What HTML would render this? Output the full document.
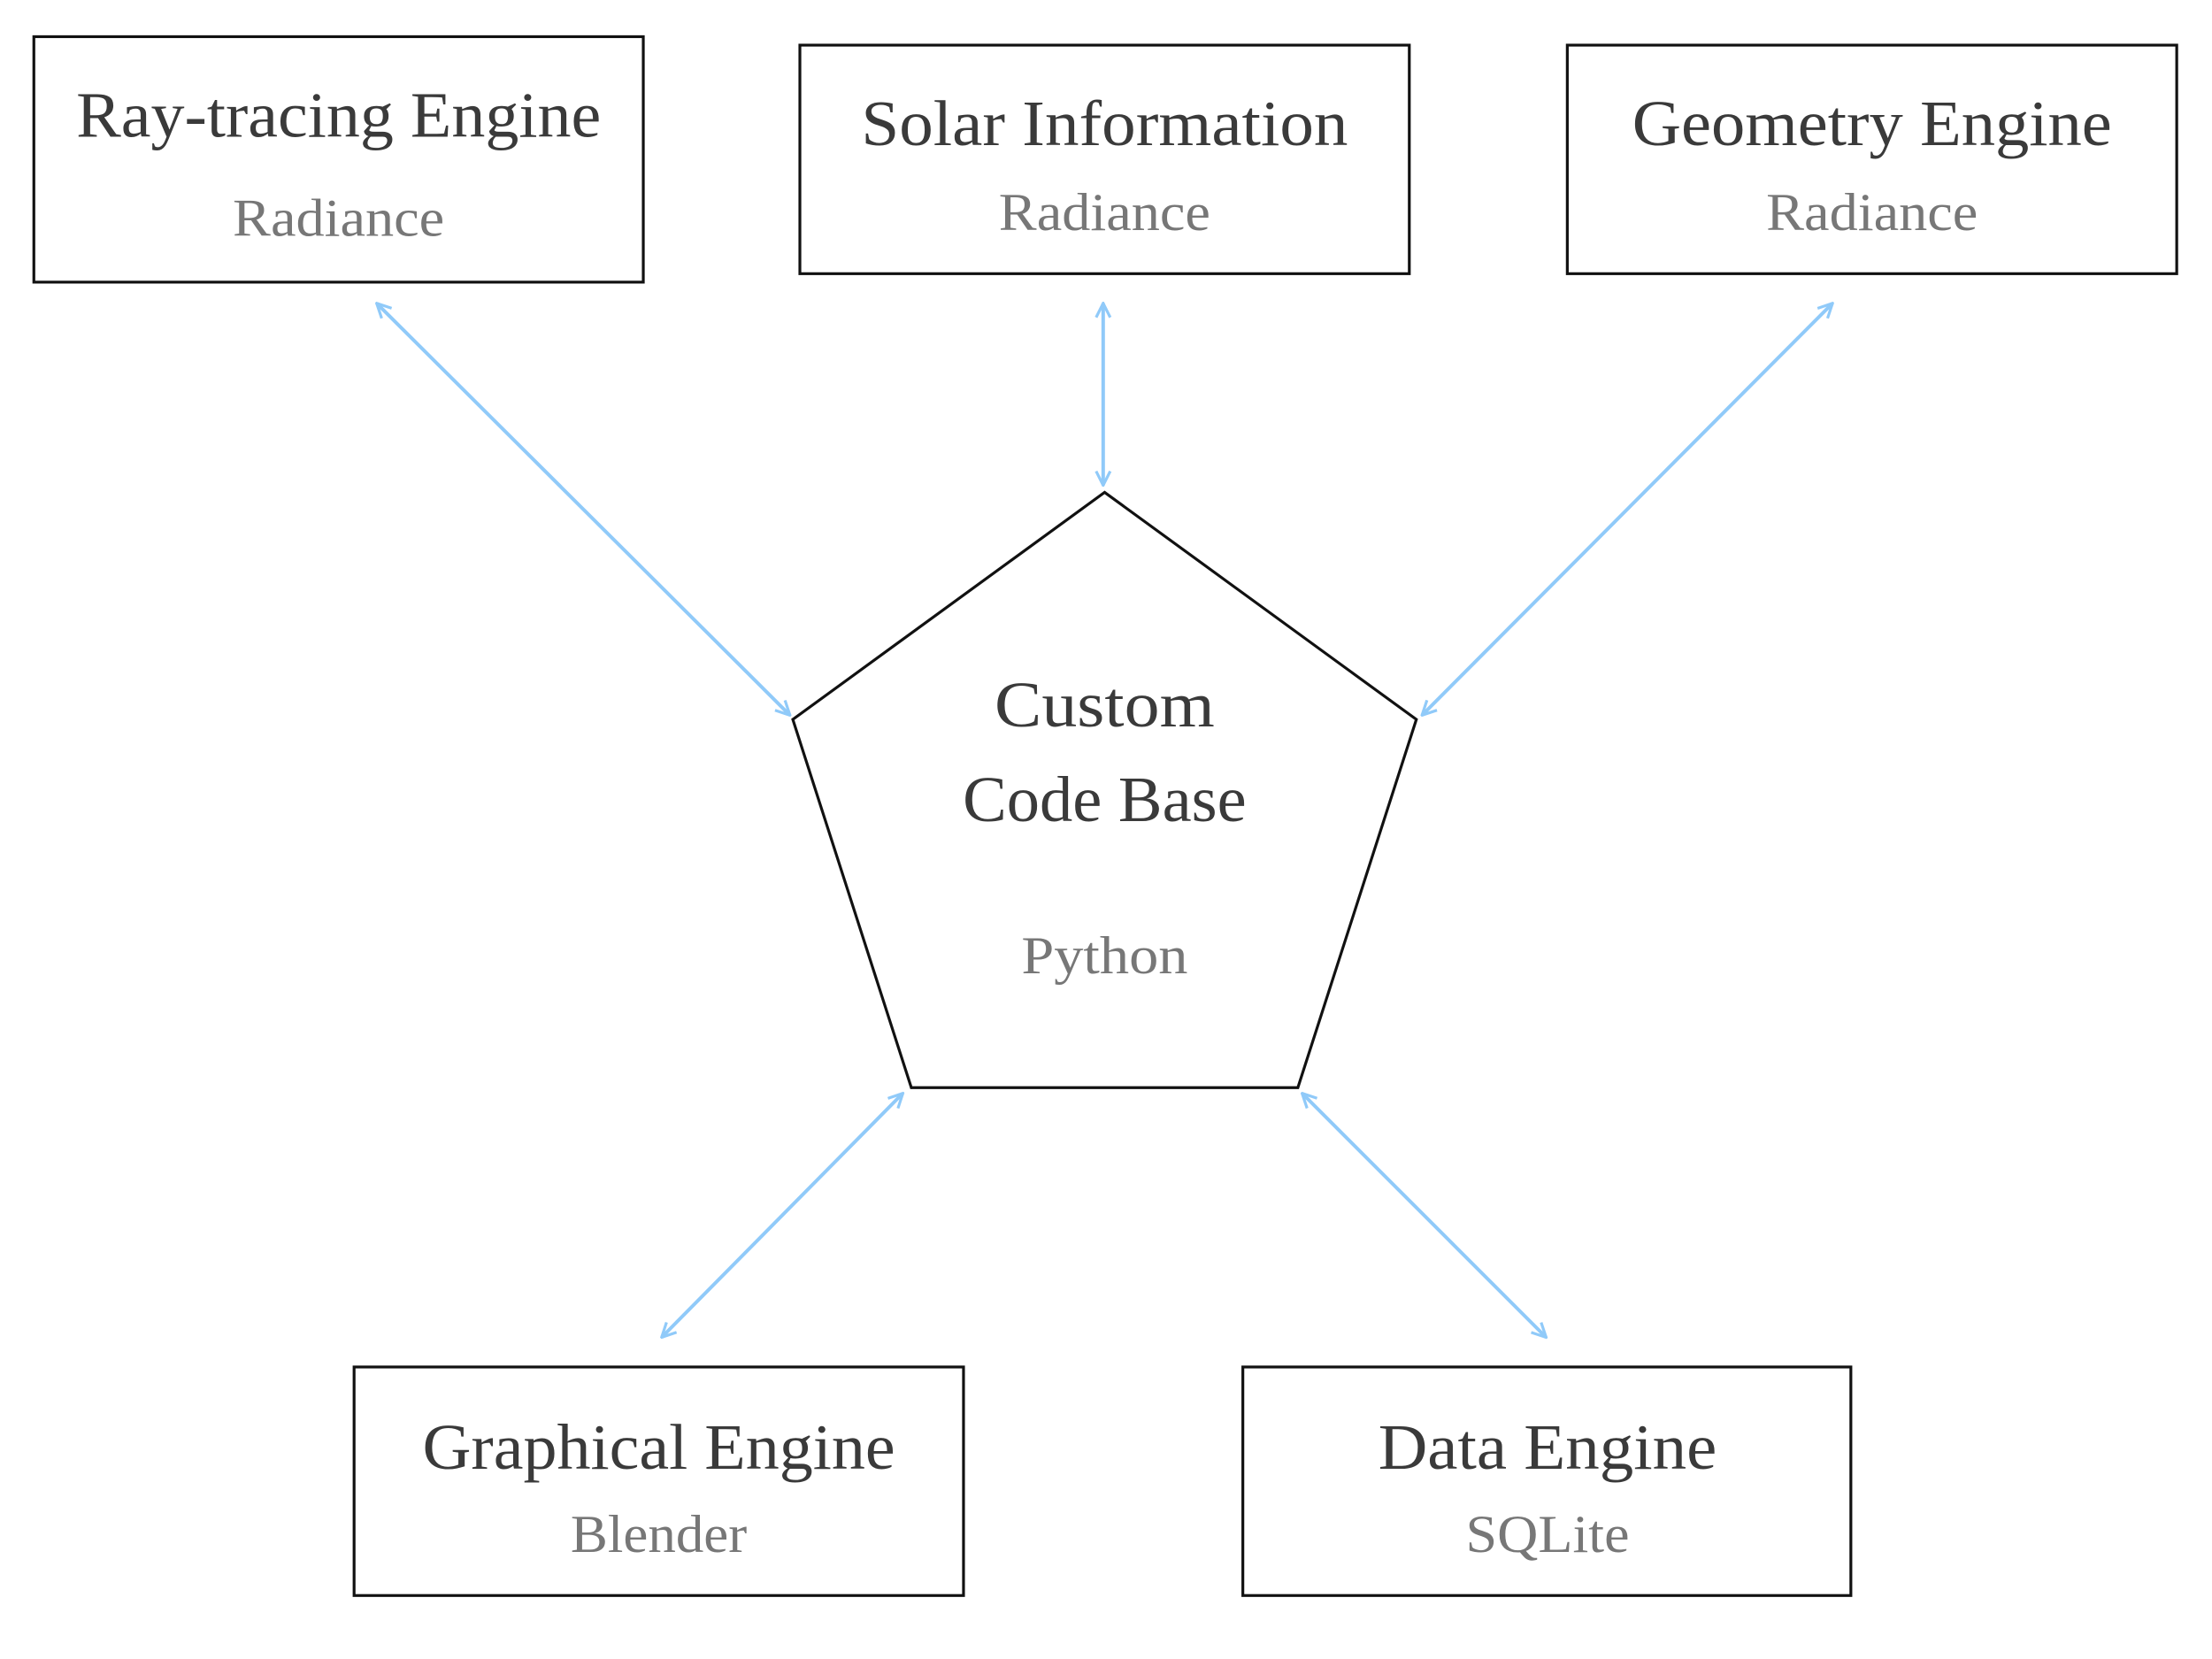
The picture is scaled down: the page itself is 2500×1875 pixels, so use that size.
<!DOCTYPE html>
<html><head><meta charset="utf-8"><style>html,body{margin:0;padding:0;background:#fff}svg{display:block}</style></head>
<body>
<svg width="2500" height="1875" viewBox="0 0 1568 1176" preserveAspectRatio="none" xmlns="http://www.w3.org/2000/svg">
<defs>
<marker id="a" viewBox="0 0 12 12" refX="11" refY="6" markerWidth="12" markerHeight="12" orient="auto-start-reverse" markerUnits="userSpaceOnUse">
<path d="M1,1 L11,6 L1,11" fill="none" stroke="#90caf9" stroke-width="2"/>
</marker>
</defs>
<g fill="none" stroke="#111" stroke-width="2">
<rect x="24" y="26" width="432" height="174"/>
<rect x="567" y="32" width="432" height="162"/>
<rect x="1111" y="32" width="432" height="162"/>
<rect x="251" y="969" width="432" height="162"/>
<rect x="881" y="969" width="431" height="162"/>
<polygon points="783,349 1004,510 920,771 646,771 562,510"/>
</g>
<g stroke="#90caf9" stroke-width="2.5" fill="none" marker-start="url(#a)" marker-end="url(#a)">
<line x1="267" y1="215" x2="560" y2="507"/>
<line x1="782" y1="215" x2="782" y2="344"/>
<line x1="1299" y1="215" x2="1008" y2="507"/>
<line x1="640" y1="775" x2="469" y2="948"/>
<line x1="923" y1="775" x2="1096" y2="948"/>
</g>
<g font-family="Liberation Serif, serif" text-anchor="middle" lengthAdjust="spacingAndGlyphs">
<g fill="#3a3a3a" font-size="46">
<text x="240" y="97" textLength="372" lengthAdjust="spacingAndGlyphs">Ray-tracing Engine</text>
<text x="783" y="103" textLength="345" lengthAdjust="spacingAndGlyphs">Solar Information</text>
<text x="1327" y="103" textLength="340" lengthAdjust="spacingAndGlyphs">Geometry Engine</text>
<text x="467" y="1041" textLength="335" lengthAdjust="spacingAndGlyphs">Graphical Engine</text>
<text x="1097" y="1041" textLength="240" lengthAdjust="spacingAndGlyphs">Data Engine</text>
<text x="783" y="515" textLength="156" lengthAdjust="spacingAndGlyphs">Custom</text>
<text x="783" y="582" textLength="201" lengthAdjust="spacingAndGlyphs">Code Base</text>
</g>
<g fill="#777" font-size="38">
<text x="240" y="167" textLength="150" lengthAdjust="spacingAndGlyphs">Radiance</text>
<text x="783" y="163" textLength="150" lengthAdjust="spacingAndGlyphs">Radiance</text>
<text x="1327" y="163" textLength="150" lengthAdjust="spacingAndGlyphs">Radiance</text>
<text x="467" y="1100" textLength="125" lengthAdjust="spacingAndGlyphs">Blender</text>
<text x="1097" y="1100" textLength="116" lengthAdjust="spacingAndGlyphs">SQLite</text>
<text x="783" y="690" textLength="118" lengthAdjust="spacingAndGlyphs">Python</text>
</g>
</g>
</svg>
</body></html>
